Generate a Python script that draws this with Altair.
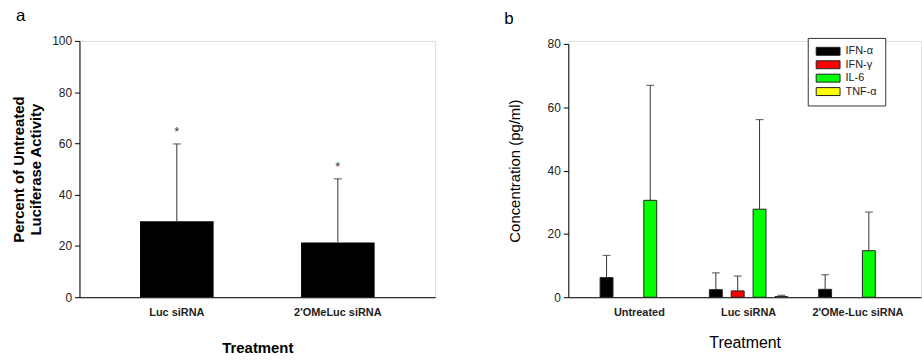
import altair as alt
import pandas as pd

FONT = "Liberation Sans"

# Panel a data
a_treat = ["Luc siRNA", "2'OMeLuc siRNA"]
a_mean = [29.6, 21.4]
a_err = [30.2, 24.8]

# Panel b data
b_groups = ["Untreated", "Luc siRNA", "2'OMe-Luc siRNA"]
b_cyto = ["IFN-α", "IFN-γ", "IL-6", "TNF-α"]
b_colors = ["#000000", "#ff0000", "#00ff00", "#ffff00"]
b_mean = {
    "Untreated": [6.2, 0.0, 30.6, 0.0],
    "Luc siRNA": [2.4, 2.0, 27.8, 0.2],
    "2'OMe-Luc siRNA": [2.5, 0.0, 14.7, 0.0],
}
b_err = {
    "Untreated": [7.0, 0.0, 36.3, 0.0],
    "Luc siRNA": [5.3, 4.7, 28.3, 0.4],
    "2'OMe-Luc siRNA": [4.6, 0.0, 12.2, 0.0],
}

da = pd.DataFrame({"t": a_treat, "m": a_mean, "e": a_err})
da["top"] = da["m"] + da["e"]
da["star"] = "*"

rows = []
for g in b_groups:
    for c, m, e in zip(b_cyto, b_mean[g], b_err[g]):
        rows.append({"g": g, "c": c, "m": m, "e": e, "top": m + e})
db = pd.DataFrame(rows)

axis_common = dict(
    domainColor="#000000", tickColor="#000000", labelColor="#222222",
    titleColor="#000000", labelFont=FONT, titleFont=FONT, grid=False,
)

# ---------------- Panel a ----------------
xa = alt.X("t:N", sort=a_treat,
           scale=alt.Scale(paddingInner=0.543, paddingOuter=0.376),
           axis=alt.Axis(title="Treatment", ticks=False, labelAngle=0,
                         labelFontWeight="bold", labelFontSize=11, labelPadding=9,
                         titleFontWeight="bold", titleFontSize=15, titlePadding=24,
                         **axis_common))
ya = alt.Y("m:Q", scale=alt.Scale(domain=[0, 100], nice=False),
           axis=alt.Axis(title=["Percent of Untreated", "Luciferase Activity"],
                         values=[0, 20, 40, 60, 80, 100], tickSize=5,
                         labelFontSize=12, labelPadding=3,
                         titleFontWeight="bold", titleFontSize=15, titlePadding=8,
                         titleLineHeight=17, **axis_common))

base_a = alt.Chart(da)
bars_a = base_a.mark_bar(color="#000000").encode(x=xa, y=ya)
rule_a = base_a.mark_rule(color="#333333", strokeWidth=1).encode(
    x=alt.X("t:N", sort=a_treat), y=alt.Y("m:Q"), y2="top:Q")
cap_a = base_a.mark_tick(color="#333333", size=8, thickness=1.2).encode(
    x=alt.X("t:N", sort=a_treat), y=alt.Y("top:Q"))
star_a = base_a.mark_text(dy=-12, fontSize=13, font=FONT, color="#333333").encode(
    x=alt.X("t:N", sort=a_treat), y=alt.Y("top:Q"), text="star:N")

panel_a = alt.layer(bars_a, rule_a, cap_a, star_a).properties(
    width=358, height=258,
    title=alt.TitleParams("a", anchor="start", dx=4, dy=2, fontSize=17,
                          fontWeight="normal", font=FONT, offset=12),
)

# ---------------- Panel b ----------------
xb = alt.X("g:N", sort=b_groups,
           scale=alt.Scale(domain=b_groups, paddingInner=0, paddingOuter=0.1136, align=0.66),
           axis=alt.Axis(title="Treatment", ticks=False, labelAngle=0,
                         labelFontWeight="bold", labelFontSize=11, labelPadding=9,
                         titleFontWeight="normal", titleFontSize=16, titlePadding=18,
                         **axis_common))
xob = alt.XOffset("c:N", sort=b_cyto,
                  scale=alt.Scale(domain=b_cyto, paddingInner=0.41, paddingOuter=0.705))
yb = alt.Y("m:Q", scale=alt.Scale(domain=[0, 80], nice=False, range=[258, 3]),
           axis=alt.Axis(title="Concentration (pg/ml)",
                         values=[0, 20, 40, 60, 80], tickSize=5,
                         labelFontSize=12, labelPadding=3,
                         titleFontWeight="normal", titleFontSize=15, titlePadding=25,
                         **axis_common))

base_b = alt.Chart(db)
bars_b = base_b.transform_filter("datum.m > 0").mark_bar(
    stroke="#222222", strokeWidth=1).encode(
    x=xb, xOffset=xob, y=yb,
    color=alt.Color("c:N", sort=b_cyto,
                    scale=alt.Scale(domain=b_cyto, range=b_colors),
                    legend=alt.Legend(
                        title=None, orient="none", legendX=241, legendY=-3,
                        symbolType="M-2.4,-0.8L2.4,-0.8L2.4,0.8L-2.4,0.8Z",
                        symbolSize=100, symbolStrokeColor="#222222",
                        symbolStrokeWidth=1, labelFont=FONT, labelFontSize=11,
                        labelColor="#222222", rowPadding=0.5, labelOffset=12,
                        strokeColor="#333333", padding=8, fillColor="#ffffff",
                        symbolOffset=7)),
)
eb = base_b.transform_filter("datum.e > 0")
rule_b = eb.mark_rule(color="#333333", strokeWidth=1).encode(
    x=alt.X("g:N", sort=b_groups), xOffset=alt.XOffset("c:N", sort=b_cyto),
    y=alt.Y("m:Q"), y2="top:Q")
cap_b = eb.mark_tick(color="#333333", size=8, thickness=1.2).encode(
    x=alt.X("g:N", sort=b_groups), xOffset=alt.XOffset("c:N", sort=b_cyto),
    y=alt.Y("top:Q"))

panel_b = alt.layer(bars_b, rule_b, cap_b).properties(
    width=355, height=258,
    title=alt.TitleParams("b", anchor="start", dx=-3, dy=2, fontSize=17,
                          fontWeight="normal", font=FONT, offset=12),
)

chart = alt.hconcat(panel_a, panel_b, spacing=68).resolve_scale(
    color="independent", x="independent", y="independent"
).configure_view(stroke=None).configure(
    padding={"left": 11, "top": 5, "right": 0, "bottom": 0}, background="#ffffff")

chart.save("out.html", embed_options={"renderer": "svg", "actions": False})
